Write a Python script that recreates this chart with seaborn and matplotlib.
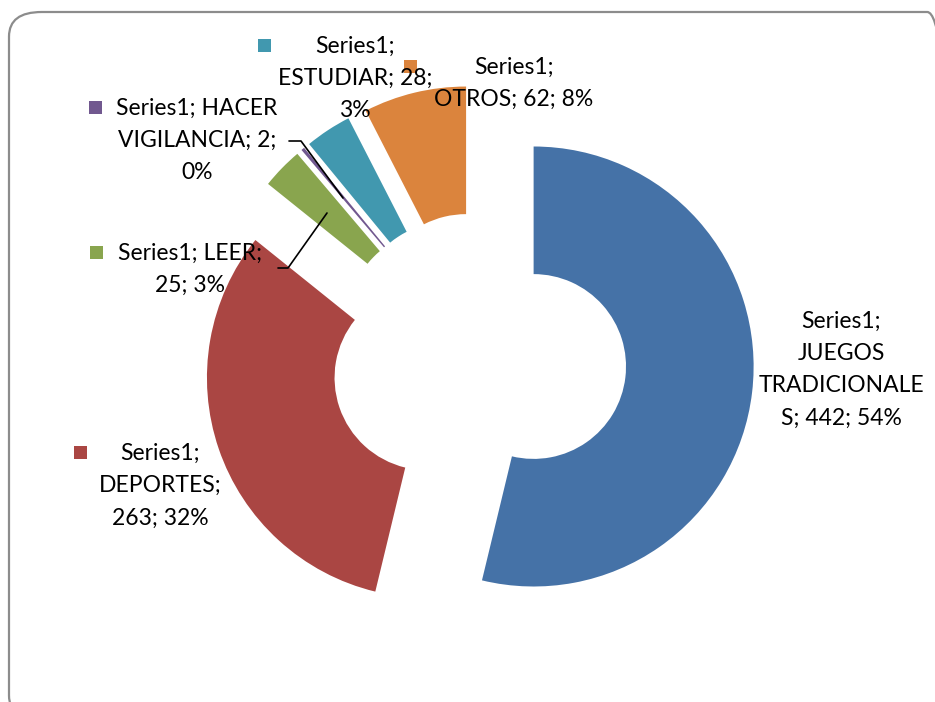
import numpy as np
import pandas as pd
import seaborn as sns
import matplotlib.pyplot as plt
from matplotlib.patches import FancyBboxPatch, Rectangle
from matplotlib.lines import Line2D

# data
categories = ['JUEGOS TRADICIONALES', 'DEPORTES', 'LEER', 'HACER VIGILANCIA', 'ESTUDIAR', 'OTROS']
values = [442, 263, 25, 2, 28, 62]
series_name = 'Series1'
colors = ['#4572A7', '#AA4643', '#89A54E', '#71588F', '#4198AF', '#DB843D']

df = pd.DataFrame({'category': categories, 'value': values})
df['pct'] = (df['value'] / df['value'].sum() * 100).round().astype(int)

sns.set_style('white')
plt.rcParams['font.family'] = ['Lato', 'DejaVu Sans']

W, H = 935, 702
fig = plt.figure(figsize=(W / 100, H / 100), dpi=100)
fig.patch.set_facecolor('white')

# rounded frame, partly running off the right / bottom edge
frame = FancyBboxPatch((9 / W, -18 / H), (960 - 9) / W, (H - 12 + 18) / H,
                       boxstyle='round,pad=0,rounding_size=0.035',
                       transform=fig.transFigure, facecolor='none',
                       edgecolor='#8c8c8c', linewidth=1.6, zorder=0)
fig.patches.append(frame)

ax = fig.add_axes([0, 0, 1, 1])
ax.patch.set_alpha(0)
R = 220.0  # pixel radius
cx, cy = 479, 360
ax.pie(df['value'], colors=colors, startangle=90, counterclock=False,
       explode=[0.25] * len(df), radius=1,
       wedgeprops=dict(width=0.58, edgecolor='none'))
ax.set_xlim(-cx / R, (W - cx) / R)
ax.set_ylim(-(H - cy) / R, cy / R)
ax.set_aspect('auto')
ax.axis('off')


def px(x, y):
    return x / W, 1 - y / H


lab = {r.category: (r.value, r.pct) for r in df.itertuples()}
texts = [
    # (category, text, center x, first line y, key x, key y)
    ('JUEGOS TRADICIONALES',
     f'{series_name};\nJUEGOS\nTRADICIONALE\nS; {lab["JUEGOS TRADICIONALES"][0]}; {lab["JUEGOS TRADICIONALES"][1]}%',
     841, 320, None, None),
    ('DEPORTES',
     f'{series_name};\nDEPORTES;\n{lab["DEPORTES"][0]}; {lab["DEPORTES"][1]}%',
     160, 452, 80, 452),
    ('LEER',
     f'{series_name}; LEER;\n{lab["LEER"][0]}; {lab["LEER"][1]}%',
     190, 252, 96, 252),
    ('HACER VIGILANCIA',
     f'{series_name}; HACER\nVIGILANCIA; {lab["HACER VIGILANCIA"][0]};\n{lab["HACER VIGILANCIA"][1]}%',
     197, 107, 95, 107),
    ('ESTUDIAR',
     f'{series_name};\nESTUDIAR; {lab["ESTUDIAR"][0]};\n{lab["ESTUDIAR"][1]}%',
     355, 45, 264, 45),
    ('OTROS',
     f'{series_name};\nOTROS; {lab["OTROS"][0]}; {lab["OTROS"][1]}%',
     514, 66, 410, 66),
]
color_of = dict(zip(categories, colors))
line_h = 32.5
for cat, txt, x, y, kx, ky in texts:
    n = txt.count('\n')
    fig.text(*px(x, y + 1 + n * line_h / 2), txt, ha='center', va='center',
             ma='center', fontsize=16.5, color='black', linespacing=1.67)
    if kx is not None:
        s = 13
        fig.patches.append(Rectangle(px(kx - s / 2, ky + s / 2), s / W, s / H,
                                     transform=fig.transFigure,
                                     facecolor=color_of[cat], edgecolor='none'))

# leader lines
for pts in ([(278, 268), (288, 268), (327, 213)],
            [(289, 141), (301, 141), (343, 198)]):
    xs, ys = zip(*[px(a, b) for a, b in pts])
    fig.lines.append(Line2D(xs, ys, transform=fig.transFigure,
                            color='black', linewidth=1.2))

fig.savefig('out.png', dpi=100)
